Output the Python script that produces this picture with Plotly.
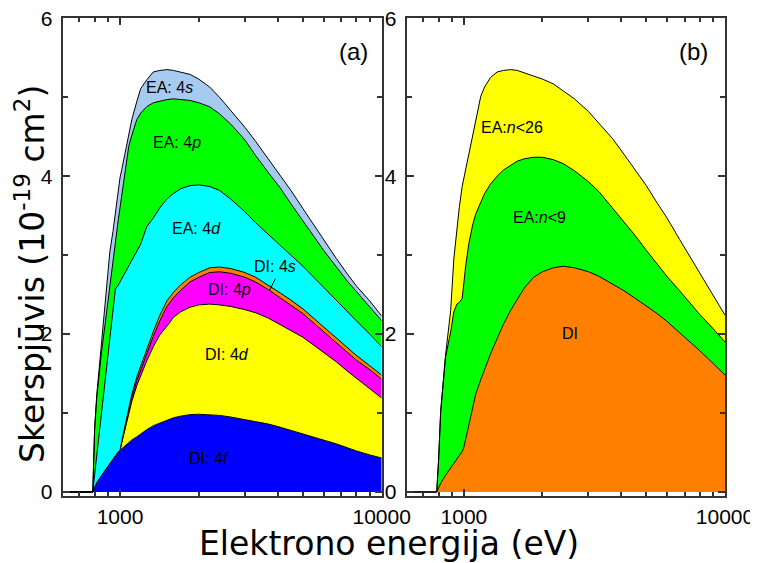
import math
import plotly.graph_objects as go

# ---------------- data ----------------
energy = [600, 787, 800, 815, 850, 890, 915, 940, 960, 985, 1000, 1015, 1045, 1080, 1110,
          1160, 1200, 1265, 1340, 1420, 1510, 1600, 1700, 1850, 2000, 2200, 2400, 2650,
          3000, 3300, 3700, 4100, 4500, 5000, 5500, 6000, 6700, 7400, 8000, 9000, 10000]

# panel (a): cumulative tops of the stacked bands (10^-19 cm^2)
a_di_4f = [0, 0, 0.06, 0.12, 0.21, 0.31, 0.37, 0.42, 0.46, 0.51, 0.53, 0.55, 0.59, 0.63, 0.66,
           0.70, 0.74, 0.79, 0.84, 0.87, 0.91, 0.94, 0.96, 0.98, 0.985, 0.98, 0.97, 0.95,
           0.92, 0.89, 0.86, 0.82, 0.78, 0.74, 0.70, 0.66, 0.61, 0.56, 0.52, 0.47, 0.43]
a_di_4d = [0, 0, 0.06, 0.12, 0.21, 0.31, 0.37, 0.42, 0.46, 0.51, 0.53, 0.62, 0.80, 1.00, 1.15,
           1.35, 1.48, 1.66, 1.84, 1.99, 2.10, 2.21, 2.28, 2.34, 2.37, 2.38, 2.37, 2.35,
           2.31, 2.27, 2.20, 2.12, 2.05, 1.96, 1.86, 1.77, 1.65, 1.53, 1.44, 1.31, 1.19]
a_di_4p = [0, 0, 0.06, 0.12, 0.21, 0.31, 0.37, 0.42, 0.46, 0.51, 0.53, 0.63, 0.82, 1.04, 1.20,
           1.41, 1.55, 1.75, 1.97, 2.17, 2.35, 2.46, 2.55, 2.66, 2.72, 2.78, 2.79, 2.77,
           2.72, 2.66, 2.56, 2.46, 2.37, 2.26, 2.14, 2.03, 1.90, 1.77, 1.67, 1.55, 1.43]
a_di_4s = [0, 0, 0.06, 0.12, 0.21, 0.31, 0.37, 0.42, 0.46, 0.51, 0.53, 0.64, 0.84, 1.07, 1.24,
           1.46, 1.60, 1.81, 2.03, 2.24, 2.42, 2.53, 2.62, 2.72, 2.78, 2.84, 2.85, 2.83,
           2.78, 2.72, 2.62, 2.52, 2.43, 2.32, 2.20, 2.09, 1.96, 1.83, 1.73, 1.60, 1.48]
a_ea_4d = [0, 0, 0.22, 0.46, 1.00, 1.60, 1.97, 2.33, 2.57, 2.62, 2.66, 2.69, 2.76, 2.85, 2.93,
           3.04, 3.14, 3.36, 3.47, 3.60, 3.71, 3.78, 3.84, 3.88, 3.89, 3.87, 3.82, 3.71,
           3.55, 3.41, 3.26, 3.13, 3.01, 2.86, 2.72, 2.59, 2.43, 2.29, 2.17, 2.00, 1.84]
a_ea_4p = [0, 0, 0.80, 1.20, 1.77, 2.31, 2.65, 2.90, 3.15, 3.45, 3.60, 3.74, 4.03, 4.38, 4.52,
           4.72, 4.80, 4.88, 4.93, 4.95, 4.97, 4.98, 4.97, 4.96, 4.93, 4.88, 4.79, 4.66,
           4.46, 4.26, 4.04, 3.85, 3.65, 3.44, 3.24, 3.06, 2.85, 2.67, 2.54, 2.34, 2.17]
a_ea_4s = [0, 0, 0.80, 1.23, 1.89, 2.61, 3.05, 3.30, 3.55, 3.87, 3.98, 4.08, 4.29, 4.55, 4.72,
           4.95, 5.11, 5.22, 5.32, 5.34, 5.35, 5.34, 5.32, 5.29, 5.23, 5.13, 5.00, 4.83,
           4.62, 4.44, 4.21, 4.01, 3.82, 3.59, 3.38, 3.19, 2.96, 2.76, 2.61, 2.42, 2.23]

# panel (b): cumulative tops
b_di = [0, 0, 0.05, 0.11, 0.21, 0.31, 0.37, 0.42, 0.46, 0.51, 0.57, 0.66, 0.84, 1.06, 1.24,
        1.42, 1.55, 1.75, 1.94, 2.13, 2.30, 2.44, 2.58, 2.72, 2.79, 2.84, 2.86, 2.84,
        2.79, 2.73, 2.64, 2.55, 2.46, 2.36, 2.26, 2.16, 2.02, 1.89, 1.79, 1.63, 1.48]
b_ea_n9 = [0, 0, 0.40, 1.02, 1.70, 2.03, 2.28, 2.38, 2.40, 2.45, 2.65, 2.85, 3.15, 3.38, 3.52,
           3.68, 3.78, 3.90, 4.00, 4.08, 4.14, 4.19, 4.22, 4.24, 4.24, 4.21, 4.16, 4.07,
           3.93, 3.80, 3.60, 3.42, 3.26, 3.06, 2.89, 2.73, 2.55, 2.38, 2.25, 2.07, 1.90]
b_ea_n26 = [0, 0, 0.40, 1.02, 1.72, 2.30, 2.95, 3.35, 3.60, 3.87, 3.97, 4.08, 4.29, 4.52, 4.70,
            5.01, 5.13, 5.25, 5.32, 5.34, 5.35, 5.34, 5.31, 5.26, 5.23, 5.17, 5.08, 4.98,
            4.82, 4.67, 4.48, 4.28, 4.09, 3.88, 3.66, 3.47, 3.20, 2.96, 2.78, 2.50, 2.24]

x_tick_vals = [1000, 10000]
x_tick_text = ["1000", "10000"]
x_minor_vals = [700, 800, 900, 2000, 3000, 4000, 5000, 6000, 7000, 8000, 9000]
y_tick_vals = [0, 2, 4, 6]
y_minor_vals = [1, 3, 5]

# ---------------- figure ----------------
# the page body has an 8 px margin, so the figure is 8 px smaller than the window
OFF = 8
W, H = 758 - OFF, 563 - OFF

def fx(px):  # window pixel -> paper x
    return (px - OFF) / W

def fy(py):  # window pixel -> paper y
    return 1 - (py - OFF) / H

fig = go.Figure()

layers_a = [
    (a_di_4f, "#0000FF"),
    (a_di_4d, "#FFFF00"),
    (a_di_4p, "#FF00FF"),
    (a_di_4s, "#FF8000"),
    (a_ea_4d, "#00FFFF"),
    (a_ea_4p, "#00FF00"),
    (a_ea_4s, "#A6CAF0"),
]
layers_b = [
    (b_di, "#FF8000"),
    (b_ea_n9, "#00FF00"),
    (b_ea_n26, "#FFFF00"),
]

for axes, layers in (("a", layers_a), ("b", layers_b)):
    xa, ya = ("x", "y") if axes == "a" else ("x2", "y2")
    for i, (vals, col) in enumerate(layers):
        fig.add_trace(go.Scatter(
            x=energy, y=vals, mode="lines",
            line=dict(color="black", width=1),
            fill="tozeroy" if i == 0 else "tonexty",
            fillcolor=col, xaxis=xa, yaxis=ya,
            showlegend=False, hoverinfo="skip"))

frame_col = "#333333"
tick_font = dict(family="Liberation Sans, Arial, sans-serif", size=21, color="black")

def xaxis_cfg(dom, anchor):
    return dict(domain=dom, anchor=anchor, type="log", automargin=False,
                range=[math.log10(604), 4],
                tickmode="array", tickvals=x_tick_vals, ticktext=x_tick_text,
                ticks="inside", ticklen=7, tickwidth=1.5, tickcolor=frame_col,
                minor=dict(tickmode="array", tickvals=x_minor_vals, ticks="inside",
                           ticklen=4, tickwidth=1.5, tickcolor=frame_col, showgrid=False),
                showline=True, linecolor=frame_col, linewidth=2, mirror="allticks",
                showgrid=False, zeroline=False, tickfont=tick_font,
                ticklabelstandoff=1, ticklabeloverflow="allow")

def yaxis_cfg(anchor):
    return dict(domain=[fy(496), fy(18.3)], anchor=anchor, automargin=False,
                range=[-0.0507, 6.0001], tickmode="array", tickvals=y_tick_vals,
                ticks="inside", ticklen=7, tickwidth=1.5, tickcolor=frame_col,
                minor=dict(tickmode="array", tickvals=y_minor_vals, ticks="inside",
                           ticklen=5, tickwidth=1.5, tickcolor=frame_col, showgrid=False),
                showline=True, linecolor=frame_col, linewidth=2, mirror="allticks",
                showgrid=False, zeroline=False, tickfont=tick_font,
                ticklabelstandoff=4, ticklabeloverflow="allow")

fig.update_layout(
    width=W, height=H, margin=dict(l=0, r=0, t=0, b=0, autoexpand=False),
    plot_bgcolor="white", paper_bgcolor="white",
    xaxis=xaxis_cfg([fx(62.7), fx(381.7)], "y"),
    yaxis=yaxis_cfg("x"),
    xaxis2=xaxis_cfg([fx(406.7), fx(725)], "y2"),
    yaxis2=yaxis_cfg("x2"),
)

lab_font = dict(family="Liberation Sans, Arial, sans-serif", size=16, color="black")
title_font = dict(family="DejaVu Sans, Verdana, sans-serif", size=33, color="black")

def ann_data(text, xval, yval, xref, yref, font=lab_font):
    fig.add_annotation(text=text, x=math.log10(xval), y=yval, xref=xref, yref=yref,
                       showarrow=False, font=font, xanchor="center", yanchor="middle")

def ann_px(text, px, py, font, angle=0):
    fig.add_annotation(text=text, x=fx(px), y=fy(py), xref="paper", yref="paper",
                       showarrow=False, font=font, xanchor="center", yanchor="middle",
                       textangle=angle)

# labels panel (a)  (positions in eV / cross-section units)
ann_data("EA: 4<i>s</i>", 1552, 5.12, "x", "y")
ann_data("EA: 4<i>p</i>", 1652, 4.43, "x", "y")
ann_data("EA: 4<i>d</i>", 1968, 3.34, "x", "y")
ann_data("DI: 4<i>s</i>", 3908, 2.85, "x", "y")
ann_data("DI: 4<i>p</i>", 2612, 2.56, "x", "y")
ann_data("DI: 4<i>d</i>", 2565, 1.74, "x", "y")
ann_data("DI: 4<i>f</i>", 2188, 0.43, "x", "y")
# labels panel (b)
ann_data("EA:<i>n</i>&lt;26", 1535, 4.62, "x2", "y2")
ann_data("EA:<i>n</i>&lt;9", 1945, 3.48, "x2", "y2")
ann_data("DI", 2559, 2.01, "x2", "y2")

# leader line for DI: 4s
fig.add_shape(type="line", xref="paper", yref="paper",
              x0=fx(275.5), y0=fy(278.5), x1=fx(269.5), y1=fy(290.5),
              line=dict(color="black", width=1))

panel_font = dict(family="Liberation Sans, Arial, sans-serif", size=24, color="black")
ann_px("(a)", 353, 52, panel_font)
ann_px("(b)", 693, 52, panel_font)

# axis titles
ann_px("Elektrono energija (eV)", 389, 543, title_font)
ann_px("Skerspjūvis (10<sup>-19</sup> cm<sup>2</sup>)", 30, 274, title_font, angle=-90)

fig.write_html("out.html")
